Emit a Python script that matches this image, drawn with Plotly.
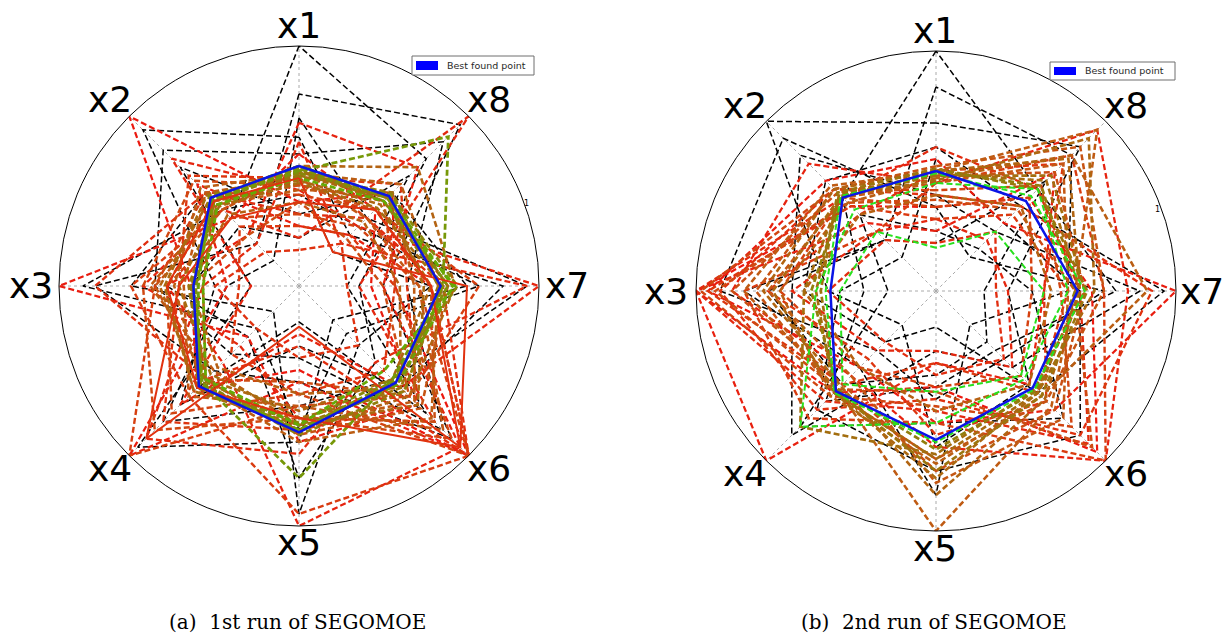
import plotly.graph_objects as go

# ---------------- DATA ----------------
axes_labels = ["x1", "x2", "x3", "x4", "x5", "x6", "x7", "x8"]
radial_tick_label = "1"

# Run 1 (a)
run1_doe = [
    [1.00, 0.40, 0.55, 0.30, 0.80, 0.45, 0.25, 0.75],
    [0.62, 0.92, 0.35, 0.70, 0.25, 0.60, 0.85, 0.30],
    [0.80, 0.25, 0.85, 0.50, 0.40, 0.90, 0.35, 0.95],
    [0.30, 0.70, 0.20, 0.95, 0.65, 0.20, 0.70, 0.55],
    [0.45, 0.55, 0.70, 0.15, 0.95, 0.35, 0.55, 0.20],
    [0.20, 0.35, 0.45, 0.60, 0.15, 0.75, 0.20, 0.65],
    [0.70, 0.15, 0.30, 0.80, 0.50, 0.55, 0.95, 0.40],
    [0.55, 0.80, 0.60, 0.40, 0.30, 0.85, 0.45, 0.85],
    [0.38, 0.45, 0.90, 0.25, 0.60, 0.28, 0.75, 0.35],
]
run1_iter = [
    [0.35, 1.00, 0.45, 0.60, 0.35, 1.00, 0.40, 0.55],
    [0.55, 0.40, 1.00, 0.30, 0.65, 0.70, 0.30, 0.45],
    [0.25, 0.60, 0.30, 1.00, 0.40, 1.00, 0.55, 0.30],
    [0.68, 0.30, 0.55, 0.45, 1.00, 0.95, 0.35, 0.70],
    [0.40, 0.75, 0.20, 0.70, 0.20, 0.60, 1.00, 0.35],
    [0.20, 0.45, 0.65, 0.35, 0.55, 0.80, 0.25, 1.00],
    [0.60, 0.25, 0.40, 0.90, 0.70, 0.45, 0.95, 0.25],
    [0.30, 0.55, 0.85, 0.55, 0.25, 1.00, 0.60, 0.40],
    [0.15, 0.20, 0.35, 0.25, 0.30, 0.35, 0.20, 0.25],
    [0.45, 0.65, 0.50, 0.80, 0.60, 0.70, 0.45, 0.60],
    [0.25, 0.35, 0.25, 0.40, 0.45, 0.50, 0.40, 0.30],
    [0.50, 0.45, 0.70, 0.65, 0.95, 1.00, 0.55, 0.40],
    [0.38, 0.55, 0.60, 1.00, 0.50, 0.65, 0.75, 0.45],
    [0.30, 0.40, 0.55, 0.75, 0.45, 1.00, 0.50, 0.35],
    [0.42, 0.62, 0.65, 0.85, 0.55, 0.90, 0.40, 0.50],
    [0.35, 0.30, 0.45, 0.55, 0.40, 0.65, 0.35, 0.28],
    [0.42, 0.50, 0.55, 0.62, 0.55, 0.80, 0.55, 0.45],
    [0.48, 0.45, 0.60, 0.55, 0.62, 0.72, 0.62, 0.50],
    [0.45, 0.55, 0.48, 0.65, 0.50, 0.85, 0.50, 0.40],
    [0.40, 0.48, 0.62, 0.50, 0.58, 0.68, 0.48, 0.55],
    [0.47, 0.58, 0.52, 0.58, 0.65, 0.78, 0.58, 0.60],
    [0.35, 0.42, 0.45, 0.48, 0.45, 0.60, 0.42, 0.38],
    [0.50, 0.52, 0.58, 0.60, 0.60, 0.65, 0.65, 0.70],
    [0.44, 0.50, 0.40, 0.55, 0.52, 0.55, 0.55, 0.48],
    [0.46, 0.54, 0.56, 0.62, 0.58, 0.70, 0.52, 0.52],
    [0.43, 0.47, 0.50, 0.52, 0.55, 0.62, 0.60, 0.46],
    [0.48, 0.50, 0.44, 0.58, 0.60, 0.58, 0.62, 0.52],
    [0.46, 0.48, 0.46, 0.56, 0.58, 0.60, 0.58, 0.55],
    [0.49, 0.51, 0.45, 0.57, 0.62, 0.62, 0.60, 0.50],
    [0.47, 0.53, 0.42, 0.60, 0.57, 0.55, 0.66, 0.54],
    [0.49, 0.50, 0.43, 0.58, 0.60, 0.56, 0.62, 0.52],
    [0.48, 0.51, 0.44, 0.57, 0.80, 0.55, 0.60, 0.88],
    [0.50, 0.52, 0.42, 0.59, 0.60, 0.58, 0.64, 0.53],
    [0.45, 0.48, 0.40, 0.55, 0.58, 0.50, 0.65, 0.50],
]
run1_solid = [
    [0.35, 0.40, 0.50, 0.90, 0.17, 0.95, 0.55, 0.45],
    [0.45, 0.50, 0.55, 0.60, 0.55, 0.95, 0.70, 0.20],
]
run1_best = [0.50, 0.52, 0.44, 0.59, 0.61, 0.57, 0.59, 0.53]

# Run 2 (b)
run2_doe = [
    [1.00, 0.55, 0.30, 0.65, 0.40, 0.35, 0.75, 0.60],
    [0.70, 1.00, 0.45, 0.20, 0.65, 0.55, 0.30, 0.85],
    [0.40, 0.80, 0.60, 0.85, 0.25, 0.45, 0.85, 0.35],
    [0.85, 0.30, 0.80, 0.45, 0.85, 0.20, 0.55, 0.80],
    [0.25, 0.45, 0.20, 0.80, 0.55, 0.75, 0.40, 0.25],
    [0.60, 0.65, 0.55, 0.30, 0.15, 0.60, 0.95, 0.50],
    [0.20, 0.30, 0.70, 0.55, 0.35, 0.30, 0.20, 0.65],
    [0.55, 0.20, 0.40, 0.70, 0.75, 0.85, 0.60, 0.40],
    [0.35, 0.90, 0.90, 0.35, 0.45, 0.40, 0.70, 0.20],
]
run2_iter = [
    [0.35, 0.50, 1.00, 0.60, 0.40, 0.95, 0.65, 0.55],
    [0.55, 0.65, 0.95, 0.45, 0.55, 0.70, 1.00, 0.40],
    [0.25, 0.40, 1.00, 1.00, 0.30, 0.55, 0.45, 0.70],
    [0.45, 0.75, 0.85, 0.50, 0.65, 1.00, 0.80, 0.95],
    [0.30, 0.35, 0.60, 0.35, 0.25, 0.45, 0.30, 0.30],
    [0.60, 0.55, 1.00, 0.65, 0.50, 0.90, 0.60, 0.60],
    [0.20, 0.30, 0.45, 0.30, 0.35, 0.40, 0.25, 0.35],
    [0.40, 0.60, 0.90, 0.70, 0.45, 0.85, 0.90, 0.50],
    [0.50, 0.45, 0.70, 0.40, 0.60, 0.65, 0.45, 0.75],
    [0.30, 0.50, 0.95, 0.55, 0.30, 0.60, 0.55, 0.45],
    [0.45, 0.35, 0.80, 0.75, 0.55, 1.00, 0.70, 0.80],
    [0.35, 0.55, 0.65, 0.45, 0.40, 0.50, 0.40, 0.55],
    [0.42, 0.60, 0.98, 0.62, 0.48, 0.80, 0.52, 0.62],
    [0.38, 0.52, 0.92, 0.58, 0.42, 0.92, 0.58, 0.48],
    [0.48, 0.58, 0.85, 0.55, 0.75, 0.70, 0.62, 0.70],
    [0.52, 0.60, 0.75, 0.60, 0.70, 0.65, 0.70, 0.85],
    [0.45, 0.55, 0.70, 0.50, 0.80, 0.75, 0.55, 0.75],
    [0.50, 0.62, 0.80, 0.58, 1.00, 0.68, 0.58, 0.95],
    [0.47, 0.52, 0.65, 0.62, 0.72, 0.62, 0.88, 0.80],
    [0.40, 0.45, 0.55, 0.45, 0.50, 0.55, 0.48, 0.50],
    [0.50, 0.60, 0.72, 0.56, 0.85, 0.64, 0.60, 0.78],
    [0.46, 0.56, 0.68, 0.60, 0.78, 0.60, 0.66, 0.90],
    [0.49, 0.57, 0.50, 0.60, 0.70, 0.60, 0.60, 0.65],
    [0.48, 0.56, 0.55, 0.80, 0.68, 0.58, 0.62, 0.68],
    [0.51, 0.58, 0.48, 0.59, 0.75, 0.62, 0.63, 0.60],
    [0.50, 0.55, 0.52, 0.58, 0.66, 0.59, 0.58, 0.62],
]
run2_green = [
    [0.18, 0.35, 0.40, 0.55, 0.42, 0.50, 0.45, 0.35],
    [0.45, 0.48, 0.50, 0.80, 0.55, 0.52, 0.55, 0.60],
    [0.49, 0.56, 0.46, 0.60, 0.63, 0.58, 0.62, 0.56],
]
run2_best = [0.50, 0.55, 0.44, 0.59, 0.62, 0.57, 0.59, 0.53]

captions = ["(a)  1st run of SEGOMOE", "(b)  2nd run of SEGOMOE"]
legend_label = "Best found point"

# ---------------- STYLE ----------------
W, H = 1226, 635
DASH = "6px,3px"
stops = [(0.0, (235, 25, 15)), (0.3, (220, 55, 15)), (0.55, (195, 88, 20)),
         (0.8, (160, 112, 15)), (1.0, (100, 170, 5))]

panels = [(299, 286, 240), (936, 291, 240)]
label_pos = [
    [(299, 26), (110, 100), (31, 285), (110, 468), (299, 542), (489, 468), (567, 285), (489, 100)],
    [(935, 31), (745, 106), (666, 291), (745, 473), (935, 548), (1126, 473), (1202, 291), (1126, 106)],
]
tick1_pos = [(526, 197), (1162, 203)]
legend_box = [(412, 56, 534, 75), (1050, 62, 1175, 80)]
caption_pos = [(297, 622), (934, 622)]


def grad(t):
    for (t0, c0), (t1, c1) in zip(stops[:-1], stops[1:]):
        if t <= t1:
            f = (t - t0) / (t1 - t0) if t1 > t0 else 0
            c = [round(a + (b - a) * f) for a, b in zip(c0, c1)]
            return "rgb(%d,%d,%d)" % tuple(c)
    return "rgb(%d,%d,%d)" % stops[-1][1]


def closed(vals):
    return list(vals) + [vals[0]], axes_labels + [axes_labels[0]]


fig = go.Figure()


def add_line(vals, color, width, dash, subplot):
    r, th = closed(vals)
    fig.add_trace(go.Scatterpolar(r=r, theta=th, mode="lines",
                                  line=dict(color=color, width=width, dash=dash),
                                  subplot=subplot, showlegend=False, hoverinfo="skip"))


# Run 1
for v in run1_doe:
    add_line(v, "black", 1.5, DASH, "polar")
n1 = len(run1_iter)
for i, v in enumerate(run1_iter):
    t = i / (n1 - 1)
    add_line(v, grad(t), 2.2 + 0.6 * t, DASH, "polar")
for v in run1_solid:
    add_line(v, "rgb(225,50,15)", 2, "solid", "polar")
add_line(run1_best, "rgb(10,20,230)", 2.5, "solid", "polar")

# Run 2
for v in run2_doe:
    add_line(v, "black", 1.5, DASH, "polar2")
n2 = len(run2_iter)
for i, v in enumerate(run2_iter):
    t = 0.85 * i / (n2 - 1)
    add_line(v, grad(t), 2.2 + 0.6 * t, DASH, "polar2")
for v in run2_green:
    add_line(v, "rgb(40,225,30)", 2, DASH, "polar2")
add_line(run2_best, "rgb(10,20,230)", 2.5, "solid", "polar2")


def dom(cx, cy, rad):
    return dict(x=[(cx - rad) / W, (cx + rad) / W], y=[1 - (cy + rad) / H, 1 - (cy - rad) / H])


def polar_layout(d):
    return dict(
        domain=d, bgcolor="white",
        angularaxis=dict(type="category", categoryarray=axes_labels, rotation=90,
                         direction="counterclockwise", showline=True, linecolor="black",
                         linewidth=1, showgrid=True, gridcolor="rgb(170,170,170)",
                         griddash="dot", gridwidth=1, ticks="", showticklabels=False),
        radialaxis=dict(range=[0, 1], showline=False, showgrid=False, ticks="",
                        showticklabels=False),
    )


def px(x, y):
    return x / W, 1 - y / H


annotations = []
shapes = []
for p in range(2):
    for lab, (lx, ly) in zip(axes_labels, label_pos[p]):
        ax_, ay_ = px(lx, ly)
        annotations.append(dict(text=lab, x=ax_, y=ay_, xref="paper", yref="paper",
                                showarrow=False, xanchor="center", yanchor="middle",
                                font=dict(family="DejaVu Sans", size=36, color="black")))
    tx, ty = px(*tick1_pos[p])
    annotations.append(dict(text=radial_tick_label, x=tx, y=ty, xref="paper", yref="paper",
                            showarrow=False, font=dict(family="DejaVu Sans", size=8, color="black")))
    x0, y0, x1, y1 = legend_box[p]
    bx0, by0 = px(x0, y1)
    bx1, by1 = px(x1, y0)
    shapes.append(dict(type="rect", xref="paper", yref="paper", x0=bx0, y0=by0, x1=bx1, y1=by1,
                       line=dict(color="rgb(110,110,110)", width=1), fillcolor="white", layer="above"))
    pcx0, pcy0 = px(x0 + 4, y1 - 5)
    pcx1, pcy1 = px(x0 + 26, y0 + 5)
    shapes.append(dict(type="rect", xref="paper", yref="paper", x0=pcx0, y0=pcy0, x1=pcx1, y1=pcy1,
                       line=dict(width=0), fillcolor="rgb(0,0,255)", layer="above"))
    lx_, ly_ = px(x0 + 33, (y0 + y1) / 2)
    annotations.append(dict(text=legend_label, x=lx_, y=ly_, xref="paper", yref="paper",
                            showarrow=False, xanchor="left", yanchor="middle",
                            font=dict(family="DejaVu Sans", size=9.5, color="rgb(40,40,40)")))
    cx_, cy_ = px(*caption_pos[p])
    annotations.append(dict(text=captions[p], x=cx_, y=cy_, xref="paper", yref="paper",
                            showarrow=False, xanchor="center", yanchor="middle",
                            font=dict(family="DejaVu Serif", size=20, color="black")))

fig.update_layout(
    width=W, height=H, margin=dict(l=0, r=0, t=0, b=0),
    paper_bgcolor="white", plot_bgcolor="white", showlegend=False,
    polar=polar_layout(dom(*panels[0])),
    polar2=polar_layout(dom(*panels[1])),
    annotations=annotations, shapes=shapes,
)

fig.write_html("out.html", config={"displayModeBar": False},
               post_script="document.body.style.margin='0';")
